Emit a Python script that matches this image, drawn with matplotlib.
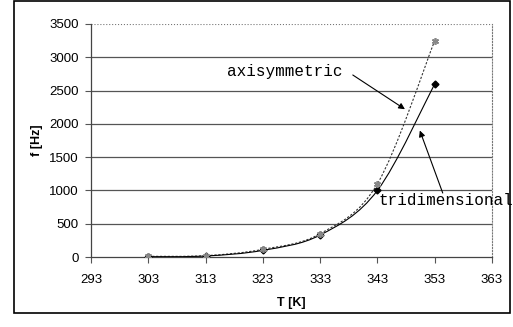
import numpy as np
import matplotlib
matplotlib.use("Agg")
import matplotlib.pyplot as plt
from matplotlib.path import Path
from matplotlib.patches import PathPatch, Rectangle

# data
temps = [303, 313, 323, 333, 343, 353]
f_axi = [10, 20, 115, 350, 1100, 3250]
f_tri = [5, 15, 100, 330, 1000, 2600]
x_ticks = [293, 303, 313, 323, 333, 343, 353, 363]
y_ticks = [0, 500, 1000, 1500, 2000, 2500, 3000, 3500]


def smooth_path(x, y, k=1/6.):
    # Catmull-Rom style bezier through the points (like Excel smoothed lines)
    x = np.asarray(x, float)
    y = np.asarray(y, float)
    verts = [(x[0], y[0])]
    codes = [Path.MOVETO]
    n = len(x)
    for i in range(n - 1):
        p0 = (x[max(i-1, 0)], y[max(i-1, 0)])
        p1 = (x[i], y[i])
        p2 = (x[i+1], y[i+1])
        p3 = (x[min(i+2, n-1)], y[min(i+2, n-1)])
        c1 = (p1[0] + (p2[0]-p0[0])*k, p1[1] + (p2[1]-p0[1])*k)
        c2 = (p2[0] - (p3[0]-p1[0])*k, p2[1] - (p3[1]-p1[1])*k)
        verts += [c1, c2, p2]
        codes += [Path.CURVE4]*3
    return Path(verts, codes)


plt.rcParams['font.family'] = ['Liberation Sans', 'DejaVu Sans']
fig = plt.figure(figsize=(5.13, 3.27), dpi=100)
fig.patches.append(Rectangle((14/513, 14/327), 496/513, 312/327, transform=fig.transFigure,
                             fill=False, edgecolor='black', lw=1.2))
ax = fig.add_axes([91/513, 70/327, 401/513, 233/327])

ax.set_xlim(293, 363)
ax.set_ylim(0, 3500)
ax.set_xticks(x_ticks)
ax.set_yticks(y_ticks)
ax.tick_params(labelsize=9.5, length=4, width=0.8, direction='out', color='#555555', pad=5)
ax.tick_params(axis='x', pad=8)
for yv in y_ticks[1:-1]:
    ax.axhline(yv, color='#555555', lw=0.9, zorder=0)
ax.axhline(y_ticks[-1], color='#777777', lw=0.8, ls=':', zorder=0)
ax.spines['right'].set_linestyle(':')
ax.spines['right'].set_color('#777777')
ax.spines['right'].set_linewidth(0.8)
ax.spines['top'].set_visible(False)
for s in ['left', 'bottom']:
    ax.spines[s].set_color('#444444')
    ax.spines[s].set_linewidth(0.9)

ax.add_patch(PathPatch(smooth_path(temps, f_axi), fill=False, ls=(0, (2, 1.5)),
                       lw=0.8, edgecolor='#333333'))
ax.add_patch(PathPatch(smooth_path(temps, f_tri), fill=False, lw=0.8, edgecolor='black'))
ax.plot(temps, f_axi, ls='none', marker=(6, 2, 0), ms=5, mew=1.2, color='#888888', zorder=4)
ax.plot(temps, f_tri, ls='none', marker='D', ms=3.5, color='black', zorder=3)

ax.set_xlabel('T [K]', fontsize=9, fontweight='bold', labelpad=8)
ax.set_ylabel('f [Hz]', fontsize=9, fontweight='bold', labelpad=4)

arrow = dict(arrowstyle='-|>', color='black', lw=0.8, mutation_scale=9, shrinkA=0, shrinkB=0)
ax.text(316.7, 2780, 'axisymmetric', fontsize=11.5, family='Liberation Mono',
        ha='left', va='center')
ax.annotate('', xy=(347.8, 2220), xytext=(338.7, 2734), arrowprops=arrow)
ax.text(343.1, 856, 'tridimensional', fontsize=11.5, family='Liberation Mono',
        ha='left', va='center', clip_on=False)
ax.annotate('', xy=(350.4, 1900), xytext=(354.4, 961), arrowprops=arrow)

fig.savefig('out.png', dpi=100)
